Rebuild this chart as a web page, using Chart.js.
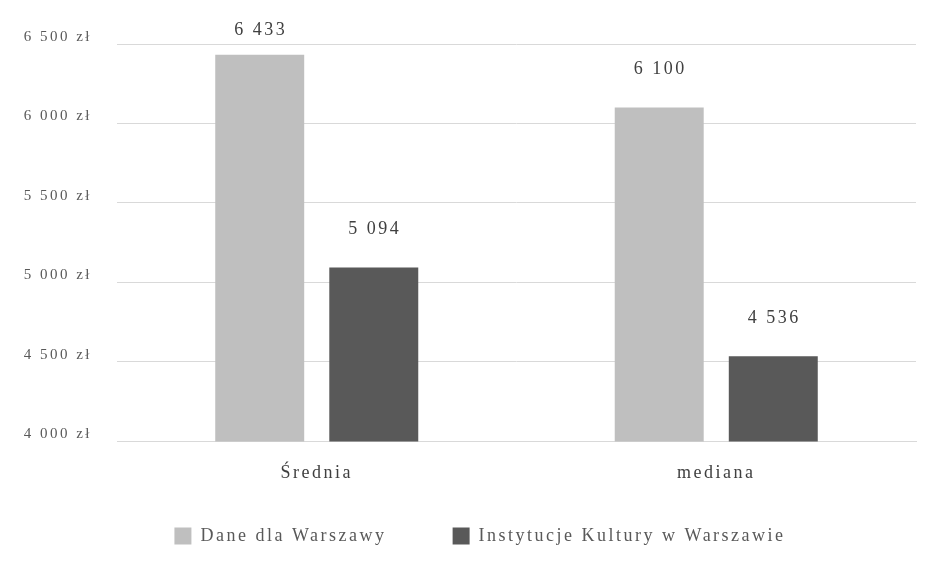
<!DOCTYPE html>
<html>
<head>
<meta charset="utf-8">
<script src="https://cdn.jsdelivr.net/npm/chart.js@4"></script>
<style>
  html, body { margin: 0; padding: 0; background: #fff; }
  #wrap { width: 934px; height: 580px; }
</style>
</head>
<body>
<div id="wrap"><canvas id="wynagrodzenia"></canvas></div>
<script>
// dane
const kategorie = ['Średnia', 'mediana'];
const daneWarszawa = [6433, 6100];
const instytucjeKultury = [5094, 4536];
const nazwySerii = ['Dane dla Warszawy', 'Instytucje Kultury w Warszawie'];
const yMin = 4000, yMax = 6500, yKrok = 500;

const FONT = '"Liberation Serif", "DejaVu Serif", serif';
const ODSTEP_LITER = '2.5px'; // oryginalna czcionka jest szersza

// spacja jako separator tysięcy
function fmt(v) {
    return String(v).replace(/\B(?=(\d{3})+(?!\d))/g, '\u00a0');
}

// rozstrzelenie tekstu (canvas resetuje stan przy zmianie rozmiaru)
const odstepPlugin = {
    id: 'odstep',
    beforeUpdate(chart) { chart.ctx.letterSpacing = ODSTEP_LITER; },
    beforeDraw(chart) { chart.ctx.letterSpacing = ODSTEP_LITER; },
    afterLayout(chart) {
        // legenda w oryginale jest przesunięta w prawo
        if (chart.legend) {
            chart.legend.left += 22;
            chart.legend.right += 22;
        }
    }
};

// etykiety wartości nad słupkami
const etykietyPlugin = {
    id: 'etykiety',
    afterDatasetsDraw(chart) {
        const ctx = chart.ctx;
        ctx.save();
        ctx.font = '18px ' + FONT;
        ctx.fillStyle = '#404040';
        ctx.textAlign = 'center';
        ctx.textBaseline = 'middle';
        chart.data.datasets.forEach((ds, i) => {
            chart.getDatasetMeta(i).data.forEach((bar, j) => {
                const y = Math.max(bar.y - 38, 30);
                ctx.fillText(fmt(ds.data[j]), bar.x + 1, y);
            });
        });
        ctx.restore();
    }
};

const ctx = document.getElementById('wynagrodzenia').getContext('2d');
new Chart(ctx, {
    type: 'bar',
    data: {
        labels: kategorie,
        datasets: [
            {
                label: nazwySerii[0] + '\u2003\u2002\u2009\u2009',
                data: daneWarszawa,
                backgroundColor: '#bfbfbf',
                categoryPercentage: 0.571,
                barPercentage: 0.78
            },
            {
                label: nazwySerii[1],
                data: instytucjeKultury,
                backgroundColor: '#595959',
                categoryPercentage: 0.571,
                barPercentage: 0.78
            }
        ]
    },
    options: {
        responsive: true,
        maintainAspectRatio: false,
        animation: false,
        layout: { padding: { top: 44, right: 18, left: 0, bottom: 25 } },
        scales: {
            x: {
                grid: { display: false, drawTicks: false },
                border: { color: '#d9d9d9' },
                ticks: { color: '#404040', font: { family: FONT, size: 18 }, padding: 21 }
            },
            y: {
                min: yMin,
                max: yMax,
                grid: { color: '#d9d9d9', drawTicks: false },
                border: { display: false },
                afterFit(scale) { scale.width = 117; },
                ticks: {
                    stepSize: yKrok,
                    color: '#595959',
                    padding: 25,
                    labelOffset: -7,
                    font: { family: FONT, size: 15 },
                    callback: v => fmt(v) + ' zł'
                }
            }
        },
        plugins: {
            legend: {
                position: 'bottom',
                labels: {
                    color: '#595959',
                    boxWidth: 17,
                    boxHeight: 17,
                    padding: 22,
                    font: { family: FONT, size: 18 }
                }
            },
            tooltip: { enabled: false }
        }
    },
    plugins: [odstepPlugin, etykietyPlugin]
});
</script>
</body>
</html>
